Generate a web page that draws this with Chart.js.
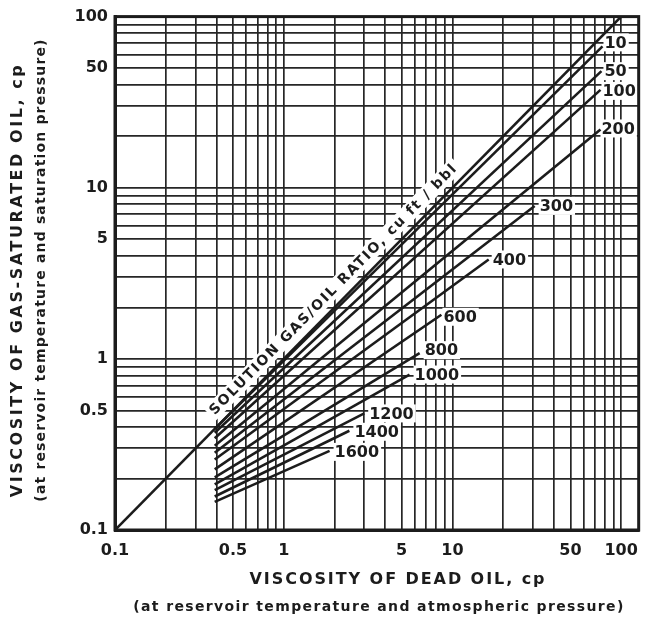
<!DOCTYPE html>
<html><head><meta charset="utf-8">
<script src="https://cdn.jsdelivr.net/npm/chart.js@4"></script>
<style>html,body{margin:0;padding:0;background:#fff}#wrap{width:649px;height:622px}</style>
</head><body><div id="wrap"><canvas id="c" width="649" height="622"></canvas></div>
<script>
// ---- data ----
const gorLabels = ['10','50','100','200','300','400','600','800','1000','1200','1400','1600'];
const deadStart = [0.39,0.39,0.39,0.39,0.39,0.39,0.39,0.39,0.39,0.39,0.39,0.39];
const satStart  = [0.39,0.37,0.344,0.311,0.283,0.258,0.226,0.203,0.185,0.171,0.157,0.146];
const deadEnd   = [77.5,76.4,75.4,75.4,30.7,16.4,8.6,6.39,5.57,3.0,2.45,1.87];
const satEnd    = [67.0,48.0,37.3,21.9,7.83,3.81,1.81,1.08,0.81,0.48,0.38,0.29];
const refDead = [0.1,100];
const refSat  = [0.1,100];
const gridTicks = [0.1,0.2,0.3,0.4,0.5,0.6,0.7,0.8,0.9,1,2,3,4,5,6,7,8,9,10,20,30,40,50,60,70,80,90,100];
const tickValues = [0.1,0.5,1,5,10,50,100];
const tickLabels = ['0.1','0.5','1','5','10','50','100'];
const xTitle = 'VISCOSITY OF DEAD OIL, cp';
const xSubTitle = '(at reservoir temperature and atmospheric pressure)';
const yTitle = 'VISCOSITY OF GAS-SATURATED OIL, cp';
const ySubTitle = '(at reservoir temperature and saturation pressure)';
const curveTitle = 'SOLUTION GAS/OIL RATIO, cu ft / bbl';

// ---- styles ----
const INK = '#1c1c1c';
const FONT = '"DejaVu Sans", sans-serif';
const labelDx = [2,3,2,1,5,4,2,5,5,5,5,5];
const labelDy = [-4,0,1,-1,0,0,2,-3,0,0,1,1];

function tickLabel(v){
  for (let i=0;i<tickValues.length;i++){ if (Math.abs(v-tickValues[i])<1e-9*Math.max(1,v)) return tickLabels[i]; }
  return '';
}

const datasets = [{
  label:'0', data: refDead.map((x,i)=>({x:x,y:refSat[i]})),
  borderColor:INK, borderWidth:2.6, pointRadius:0, showLine:true, fill:false
}];
gorLabels.forEach((g,i)=>{
  datasets.push({label:g,
    data:[{x:deadStart[i],y:satStart[i]},{x:deadEnd[i],y:satEnd[i]}],
    borderColor:INK, borderWidth:2.6, pointRadius:0, showLine:true, fill:false});
});

function fitText(ctx, text, target){
  ctx.letterSpacing = '0px';
  const w = ctx.measureText(text).width;
  const sp = Math.max(0,(target-w)/(text.length-1));
  ctx.letterSpacing = sp.toFixed(2)+'px';
  return ctx.measureText(text).width;
}

const labelPlugin = {
  id:'labels',
  beforeDatasetsDraw(chart){
    const {ctx, scales:{x,y}} = chart;
    ctx.save();
    ctx.font = 'bold 16px '+FONT;
    ctx.textBaseline='middle'; ctx.textAlign='left';
    gorLabels.forEach((g,i)=>{
      const px = x.getPixelForValue(deadEnd[i]) + labelDx[i];
      const py = y.getPixelForValue(satEnd[i]) + labelDy[i];
      const w = ctx.measureText(g).width;
      ctx.fillStyle='#fff'; ctx.fillRect(px-1, py-9, w+3, 18);
      ctx.fillStyle=INK; ctx.fillText(g, px, py+1);
    });
    // rotated curve-family title along the 1:1 line
    const ax = 2.25;
    const p0x = x.getPixelForValue(ax), p0y = y.getPixelForValue(ax);
    const p1x = x.getPixelForValue(ax*2), p1y = y.getPixelForValue(ax*2);
    const ang = Math.atan2(p1y-p0y, p1x-p0x);
    ctx.translate(p0x, p0y);
    ctx.rotate(ang);
    ctx.font = 'bold 14px '+FONT;
    ctx.textAlign='center'; ctx.textBaseline='middle';
    const w = fitText(ctx, curveTitle, 345);
    ctx.fillStyle='#fff'; ctx.fillRect(-w/2-3, -22, w+6, 17);
    ctx.fillStyle=INK; ctx.fillText(curveTitle, 0, -13);
    ctx.restore();
  },
  afterDraw(chart){
    const {ctx, chartArea:a} = chart;
    ctx.save();
    ctx.strokeStyle=INK; ctx.lineWidth=3;
    ctx.strokeRect(a.left, a.top, a.right-a.left, a.bottom-a.top);
    ctx.fillStyle=INK; ctx.textAlign='center'; ctx.textBaseline='middle';
    ctx.font='bold 16px '+FONT;
    fitText(ctx, xTitle, 295); ctx.fillText(xTitle, 398, 580);
    ctx.font='bold 14px '+FONT;
    fitText(ctx, xSubTitle, 490); ctx.fillText(xSubTitle, 379, 607);
    ctx.save(); ctx.translate(18, 280); ctx.rotate(-Math.PI/2);
    ctx.font='bold 16px '+FONT; fitText(ctx, yTitle, 432); ctx.fillText(yTitle, 0, 0);
    ctx.restore();
    ctx.save(); ctx.translate(41, 270); ctx.rotate(-Math.PI/2);
    ctx.font='bold 14px '+FONT; fitText(ctx, ySubTitle, 462); ctx.fillText(ySubTitle, 0, 0);
    ctx.restore();
    ctx.restore();
  }
};

const gridOpts = {color:'#262626', lineWidth:1.7, drawTicks:false};
new Chart(document.getElementById('c'), {
  type:'scatter',
  data:{datasets},
  options:{
    responsive:false, animation:false, devicePixelRatio:1,
    layout:{padding:{left:0,right:4,top:12,bottom:0}},
    plugins:{legend:{display:false}, tooltip:{enabled:false}},
    scales:{
      x:{type:'logarithmic', min:0.1, max:127,
        afterBuildTicks(s){ s.ticks = gridTicks.map(v=>({value:v})); },
        afterFit(s){ s.height = 92; },
        grid:gridOpts, border:{display:true,color:INK,width:3},
        ticks:{autoSkip:false, maxRotation:0, padding:11, color:INK,
          font:{family:FONT, size:16, weight:'bold'}, callback:(v)=>tickLabel(v)}},
      y:{type:'logarithmic', min:0.1, max:100,
        afterBuildTicks(s){ s.ticks = gridTicks.map(v=>({value:v})); },
        afterFit(s){ s.width = 115; },
        grid:gridOpts, border:{display:true,color:INK,width:3},
        ticks:{autoSkip:false, padding:7, color:INK,
          font:{family:FONT, size:16, weight:'bold'}, callback:(v)=>tickLabel(v)}}
    }
  },
  plugins:[labelPlugin]
});
</script></body></html>
